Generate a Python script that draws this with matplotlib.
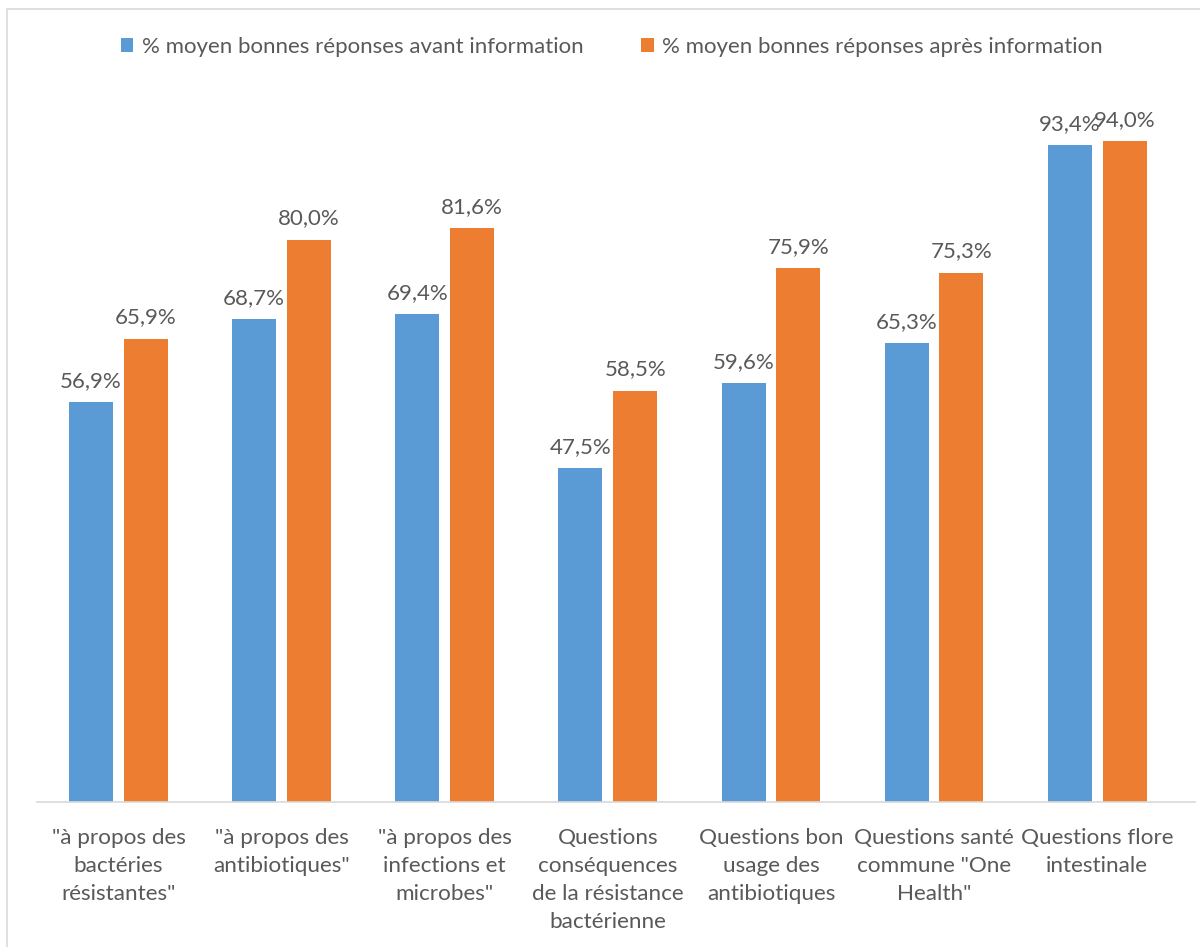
import matplotlib.pyplot as plt
import numpy as np
from matplotlib.patches import Rectangle

categories = [
    '"à propos des\nbactéries\nrésistantes"',
    '"à propos des\nantibiotiques"',
    '"à propos des\ninfections et\nmicrobes"',
    'Questions\nconséquences\nde la résistance\nbactérienne',
    'Questions bon\nusage des\nantibiotiques',
    'Questions santé\ncommune "One\nHealth"',
    'Questions flore\nintestinale',
]
avant = [56.9, 68.7, 69.4, 47.5, 59.6, 65.3, 93.4]
apres = [65.9, 80.0, 81.6, 58.5, 75.9, 75.3, 94.0]
series_names = ["% moyen bonnes réponses avant information",
                "% moyen bonnes réponses après information"]

BLUE = "#5B9BD5"
ORANGE = "#ED7D31"
TEXT = "#595959"

plt.rcParams["font.family"] = ["Lato", "DejaVu Sans"]

fig = plt.figure(figsize=(12, 9.47), dpi=100)
ax = fig.add_axes([37 / 1200, 1 - 802 / 947, (1195 - 37) / 1200, (802 - 99) / 947])

x = np.arange(len(categories))
w = 0.27
off = 0.168
b1 = ax.bar(x - off, avant, w, color=BLUE, label=series_names[0])
b2 = ax.bar(x + off, apres, w, color=ORANGE, label=series_names[1])

# data labels, French decimal comma
for bars, vals in ((b1, avant), (b2, apres)):
    for bar, v in zip(bars, vals):
        ax.text(bar.get_x() + bar.get_width() / 2, v + 1.6,
                f"{v:.1f}%".replace(".", ","), ha="center", va="bottom",
                fontsize=16, color=TEXT)

ax.set_xlim(-0.5, 6.6)
ax.set_ylim(0, 100)
ax.set_yticks([])
ax.set_xticks(x)
ax.set_xticklabels(categories, fontsize=16.2, color=TEXT, linespacing=1.5)
ax.tick_params(axis="x", length=0, pad=19)
for s in ("top", "right", "left"):
    ax.spines[s].set_visible(False)
ax.spines["bottom"].set_color("#D9D9D9")
ax.spines["bottom"].set_linewidth(1.2)

fig.legend(handles=[b1, b2], loc="center", bbox_to_anchor=(0.51, 1 - 47 / 947),
           ncol=2, frameon=False, fontsize=16, labelcolor=TEXT,
           handlelength=0.55, handleheight=0.55, handletextpad=0.4, columnspacing=2.6)

# light chart-area border
fig.patches.append(Rectangle((7 / 1200, -0.05), 1.1, 1 - 9 / 947 + 0.05,
                             transform=fig.transFigure, fill=False,
                             edgecolor="#D9D9D9", linewidth=1.2))

fig.savefig("out.png", dpi=100)
